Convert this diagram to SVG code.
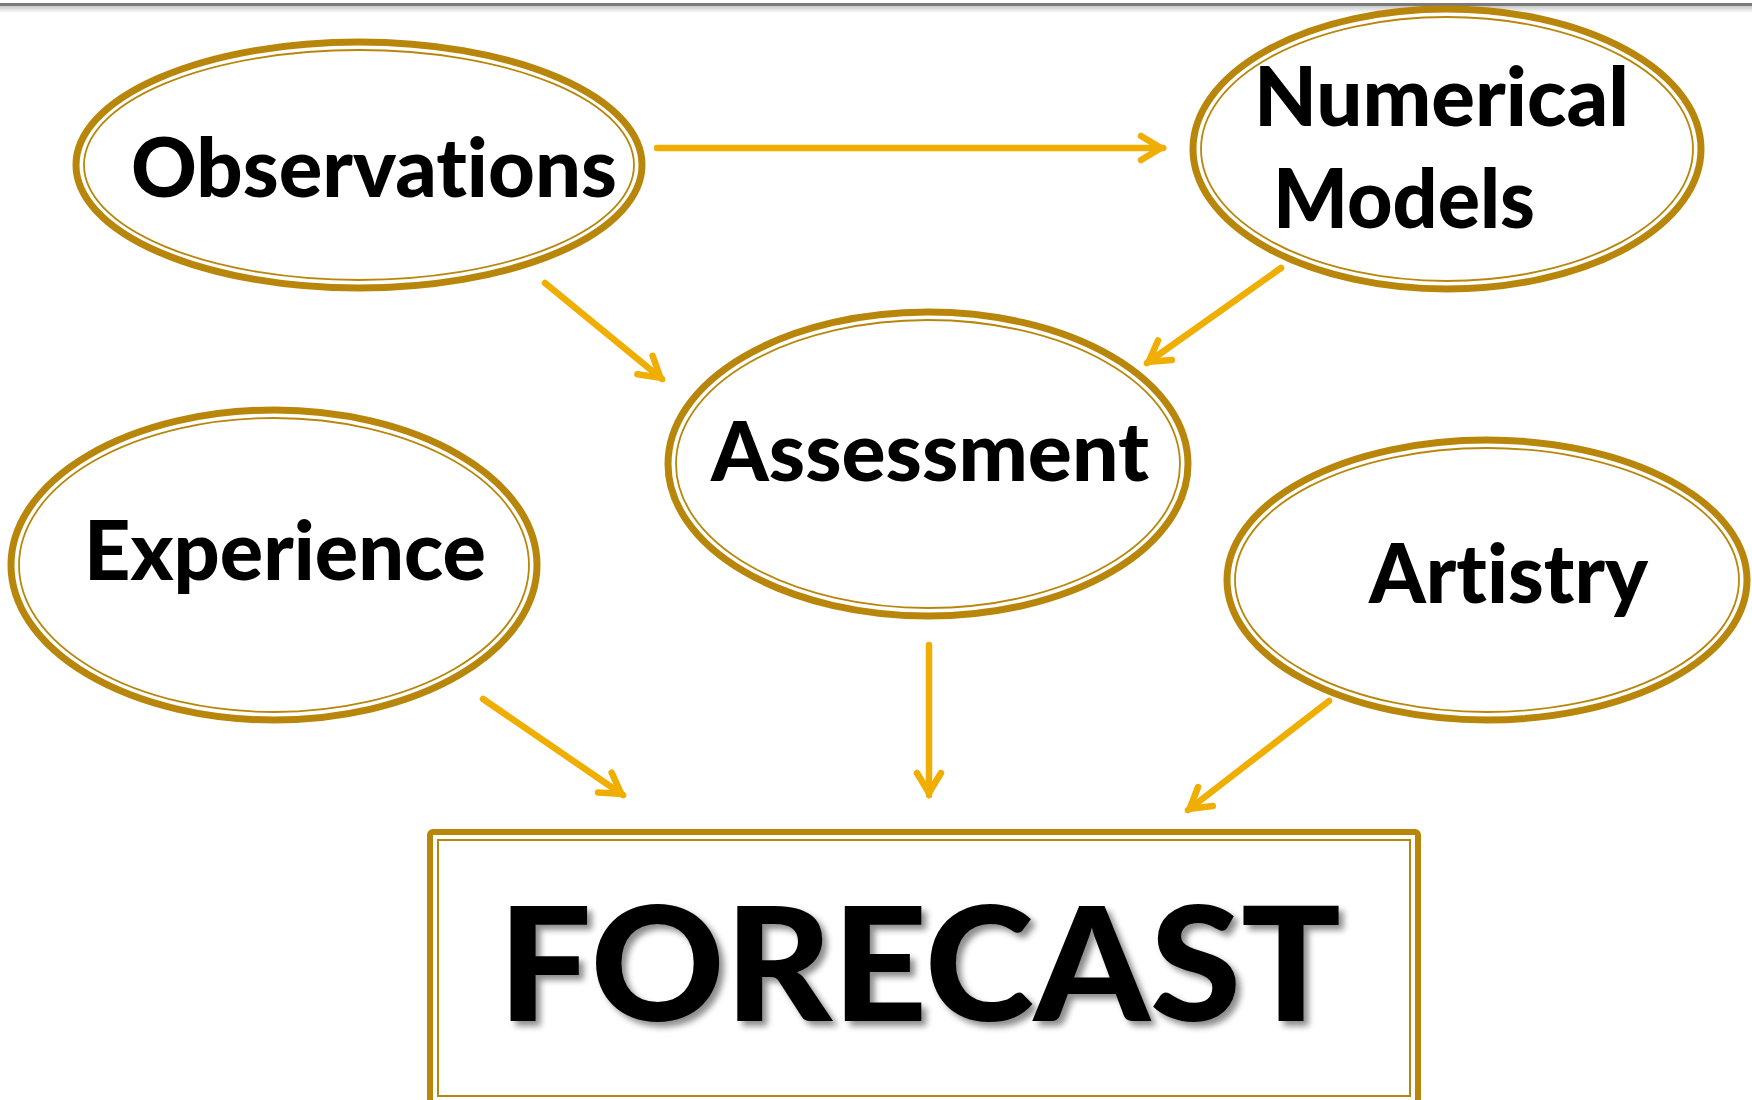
<svg xmlns="http://www.w3.org/2000/svg" width="1752" height="1100" viewBox="0 0 1752 1100">
  <defs>
    <style>
      .ring-outer { fill: #ffffff; stroke: #B8860B; stroke-width: 7; }
      .ring-inner { fill: none; stroke: #B8860B; stroke-width: 1.8; }
      .label { font-family: Lato, "Open Sans", "Liberation Sans", sans-serif; font-weight: 900; font-size: 82px; fill: #000000; font-variant-ligatures: none; font-feature-settings: "liga" 0, "clig" 0; }
      .big { font-size: 159px; }
      .conn { fill: none; stroke: #F0AE00; stroke-width: 6.5; stroke-linecap: round; }
    </style>
    <linearGradient id="topShade" x1="0" y1="0" x2="0" y2="1">
      <stop offset="0" stop-color="#c8c8c8"/>
      <stop offset="1" stop-color="#ffffff"/>
    </linearGradient>
    <marker id="arrow" markerUnits="userSpaceOnUse" markerWidth="50" markerHeight="50" viewBox="-30 -25 50 50" refX="0" refY="0" orient="auto">
      <path d="M-22,-12 L-2,0 L-22,12" fill="none" stroke="#F0AE00" stroke-width="6.5" stroke-linecap="round" stroke-linejoin="miter"/>
    </marker>
    <filter id="shadow" x="-10%" y="-20%" width="120%" height="140%">
      <feGaussianBlur in="SourceAlpha" stdDeviation="3"/>
      <feOffset dx="5" dy="5" result="b"/>
      <feFlood flood-color="#000000" flood-opacity="0.45"/>
      <feComposite in2="b" operator="in" result="s"/>
      <feMerge><feMergeNode in="s"/><feMergeNode in="SourceGraphic"/></feMerge>
    </filter>
  </defs>

  <rect x="0" y="0" width="1752" height="1100" fill="#ffffff"/>
  <rect x="0" y="6" width="1752" height="7" fill="url(#topShade)"/>
  <rect x="0" y="3" width="1752" height="3" fill="#7a7a7a"/>

  <g id="connectors">
    <path class="conn" d="M657,148 L1163,148" marker-end="url(#arrow)"/>
    <path class="conn" d="M545,283 L662,379" marker-end="url(#arrow)"/>
    <path class="conn" d="M1281,268 L1147,363" marker-end="url(#arrow)"/>
    <path class="conn" d="M483,699 L623,795" marker-end="url(#arrow)"/>
    <path class="conn" d="M929,645 L929,795" marker-end="url(#arrow)"/>
    <path class="conn" d="M1329,701 L1188,810" marker-end="url(#arrow)"/>
  </g>

  <g id="observations">
    <ellipse class="ring-outer" cx="359" cy="165" rx="283" ry="123"/>
    <ellipse class="ring-inner" cx="359" cy="165" rx="275" ry="115"/>
    <text class="label" x="131" y="197" textLength="486" lengthAdjust="spacingAndGlyphs">Observations</text>
  </g>

  <g id="numerical-models">
    <ellipse class="ring-outer" cx="1447" cy="149" rx="254" ry="140"/>
    <ellipse class="ring-inner" cx="1447" cy="149" rx="246" ry="132"/>
    <text class="label" x="1254" y="126" textLength="375" lengthAdjust="spacingAndGlyphs">Numerical</text>
    <text class="label" x="1273" y="228" textLength="262" lengthAdjust="spacingAndGlyphs">Models</text>
  </g>

  <g id="assessment">
    <ellipse class="ring-outer" cx="928" cy="464" rx="260" ry="152"/>
    <ellipse class="ring-inner" cx="928" cy="464" rx="252" ry="144"/>
    <text class="label" x="711" y="481" textLength="438" lengthAdjust="spacingAndGlyphs">Assessment</text>
  </g>

  <g id="experience">
    <ellipse class="ring-outer" cx="274" cy="565" rx="263" ry="155"/>
    <ellipse class="ring-inner" cx="274" cy="565" rx="255" ry="147"/>
    <text class="label" x="84" y="580" textLength="402" lengthAdjust="spacingAndGlyphs">Experience</text>
  </g>

  <g id="artistry">
    <ellipse class="ring-outer" cx="1487" cy="580" rx="260" ry="140"/>
    <ellipse class="ring-inner" cx="1487" cy="580" rx="252" ry="132"/>
    <text class="label" x="1369" y="603" textLength="279" lengthAdjust="spacingAndGlyphs">Artistry</text>
  </g>

  <g id="forecast">
    <rect x="430" y="832" width="988" height="290" rx="3" fill="#ffffff" stroke="#B8860B" stroke-width="6"/>
    <rect x="438" y="840" width="972" height="256" fill="none" stroke="#B8860B" stroke-width="2"/>
    <text class="label big" x="498" y="1021" textLength="843" lengthAdjust="spacingAndGlyphs" filter="url(#shadow)">FORECAST</text>
  </g>
</svg>
